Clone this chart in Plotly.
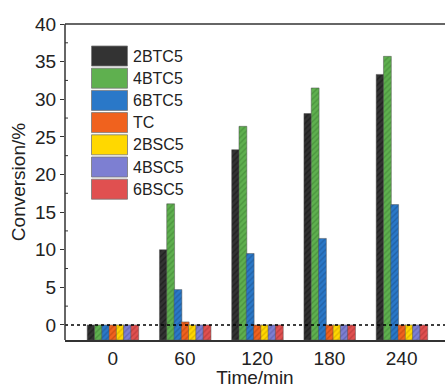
import plotly.graph_objects as go

# ---- data ----
time_labels = ["0", "60", "120", "180", "240"]
series_names = ["2BTC5", "4BTC5", "6BTC5", "TC", "2BSC5", "4BSC5", "6BSC5"]
v_2BTC5 = [0, 10.0, 23.3, 28.1, 33.3]
v_4BTC5 = [0, 16.1, 26.4, 31.5, 35.7]
v_6BTC5 = [0, 4.7, 9.5, 11.5, 16.0]
v_TC = [0, 0.4, 0, 0, 0]
v_2BSC5 = [0, 0, 0, 0, 0]
v_4BSC5 = [0, 0, 0, 0, 0]
v_6BSC5 = [0, 0, 0, 0, 0]
series_values = [v_2BTC5, v_4BTC5, v_6BTC5, v_TC, v_2BSC5, v_4BSC5, v_6BSC5]
y_ticks = [0, 5, 10, 15, 20, 25, 30, 35, 40]
y_minor_ticks = [2.5, 7.5, 12.5, 17.5, 22.5, 27.5, 32.5, 37.5]

# ---- styles ----
colors = ["#333333", "#5fb04f", "#2a78c8", "#f0621e", "#ffd800", "#7d7fd2", "#e05050"]
hatch = ["#111111", "#3c7f30", "#1a4f8a", "#b0400c", "#c89a00", "#5355a0", "#a83030"]
Y_MIN, Y_MAX = -2, 40
GROUP_W = 0.705
n = len(series_names)
slot = GROUP_W / n

fig = go.Figure()
for i, (name, vals, c, h) in enumerate(zip(series_names, series_values, colors, hatch)):
    fig.add_trace(go.Bar(
        name=name,
        x=time_labels,
        y=[v - Y_MIN for v in vals],
        base=Y_MIN,
        width=slot * 1.08,
        offset=-GROUP_W / 2 + i * slot,
        customdata=vals,
        hovertemplate="%{customdata}<extra>" + name + "</extra>",
        marker=dict(
            color=c,
            line=dict(color="#555555", width=0.5),
            pattern=dict(shape="/", fgcolor=h, fgopacity=0.55, size=4, solidity=0.35),
        ),
        showlegend=False,
    ))

AX = "#333333"
# dotted zero line
fig.add_shape(type="line", xref="paper", x0=0, x1=1, yref="y", y0=0, y1=0,
              line=dict(color="black", width=1.5, dash="dot"), layer="above")
# frame lines: top and left
fig.add_shape(type="line", xref="paper", x0=0, x1=1, yref="paper", y0=1, y1=1,
              line=dict(color=AX, width=1.5), layer="above")
fig.add_shape(type="line", xref="paper", x0=0, x1=0, yref="paper", y0=0, y1=1,
              line=dict(color=AX, width=1.5), layer="above")
# minor ticks on the inside of the y axis
L, T, R = 65, 24, 0
PW, PH = 445 - L - R, 316
for mv in y_minor_ticks:
    fig.add_shape(type="line", xref="paper", x0=0, x1=3 / PW, yref="y", y0=mv, y1=mv,
                  line=dict(color=AX, width=1), layer="above")

def px_x(x):
    return (x - L) / PW
def px_y(y):
    return 1 - (y - T) / PH

# legend (large boxes like the original)
for i, (name, c, h) in enumerate(zip(series_names, colors, hatch)):
    yc = 56 + i * 22.2
    fig.add_shape(type="rect", xref="paper", yref="paper",
                  x0=px_x(91.5), x1=px_x(127.5), y0=px_y(yc - 10), y1=px_y(yc + 10),
                  fillcolor=c, line=dict(color="#777777", width=0.8), layer="above")
    fig.add_annotation(xref="paper", yref="paper", x=px_x(131), y=px_y(yc),
                       text=name, showarrow=False, xanchor="left", yanchor="middle",
                       font=dict(family="Liberation Sans, Arial", size=16, color="#222222"))

fig.update_layout(
    width=445, height=388,
    margin=dict(l=L, r=R, t=T, b=48),
    barmode="overlay",
    plot_bgcolor="white", paper_bgcolor="white",
    font=dict(family="Liberation Sans, Arial", size=19, color="#222222"),
    showlegend=False,
)
fig.update_xaxes(
    type="category", range=[-0.66, 4.6],
    showline=True, linecolor=AX, linewidth=1.5, mirror=False,
    ticks="", showgrid=False, zeroline=False,
    tickfont=dict(size=19),
    title=dict(text="Time/min", font=dict(size=19), standoff=0),
)
fig.update_yaxes(
    range=[Y_MIN, Y_MAX], tickvals=y_ticks,
    showline=False, mirror=False,
    ticks="outside", ticklen=4, tickwidth=1, tickcolor=AX,
    showgrid=False, zeroline=False,
    tickfont=dict(size=19),
    title=dict(text="Conversion/%", font=dict(size=19), standoff=4),
)

fig.write_html("out.html")
